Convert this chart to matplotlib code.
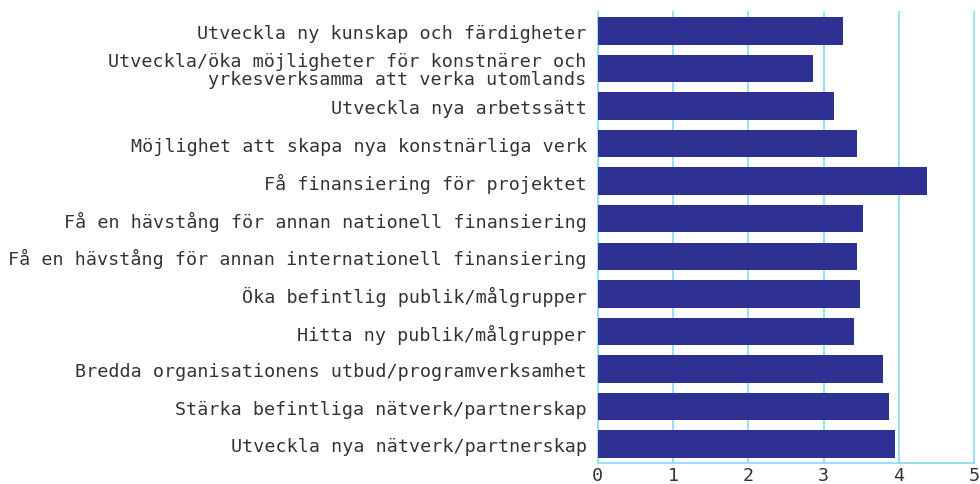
import matplotlib.pyplot as plt
import numpy as np

categories = [
    "Utveckla ny kunskap och färdigheter",
    "Utveckla/öka möjligheter för konstnärer och\nyrkesverksamma att verka utomlands",
    "Utveckla nya arbetssätt",
    "Möjlighet att skapa nya konstnärliga verk",
    "Få finansiering för projektet",
    "Få en hävstång för annan nationell finansiering",
    "Få en hävstång för annan internationell finansiering",
    "Öka befintlig publik/målgrupper",
    "Hitta ny publik/målgrupper",
    "Bredda organisationens utbud/programverksamhet",
    "Stärka befintliga nätverk/partnerskap",
    "Utveckla nya nätverk/partnerskap",
]
values = [3.26, 2.86, 3.14, 3.44, 4.38, 3.52, 3.44, 3.48, 3.40, 3.79, 3.87, 3.95]
xticks = [0, 1, 2, 3, 4, 5]

plt.rcParams['font.family'] = ['DejaVu Sans Mono']

fig = plt.figure(figsize=(9.8, 4.85), dpi=100)
ax = fig.add_axes([0.610, 0.0433, 0.384, 0.9297])

y_pos = np.arange(len(categories))
ax.barh(y_pos, values, height=0.73, color='#2e3192', zorder=3)

ax.set_ylim(len(categories) - 0.5, -0.5)
ax.set_xlim(0, 5)
ax.set_yticks(y_pos)
ax.set_yticklabels(categories, fontsize=13.2, color='#333333', linespacing=0.95)
ax.set_xticks(xticks)
ax.set_xticklabels([str(t) for t in xticks], fontsize=13.2, color='#333333')
ax.tick_params(length=0)
ax.tick_params(axis='x', pad=2)
ax.tick_params(axis='y', pad=8)

ax.grid(axis='x', color='#8fdcf5', linewidth=1.3, zorder=0)
for line in ax.get_xgridlines():
    line.set_clip_on(False)
for side in ['top', 'right', 'left']:
    ax.spines[side].set_visible(False)
ax.spines['bottom'].set_color('#8fdcf5')
ax.spines['bottom'].set_linewidth(1.3)

fig.savefig('out.png', dpi=100)
